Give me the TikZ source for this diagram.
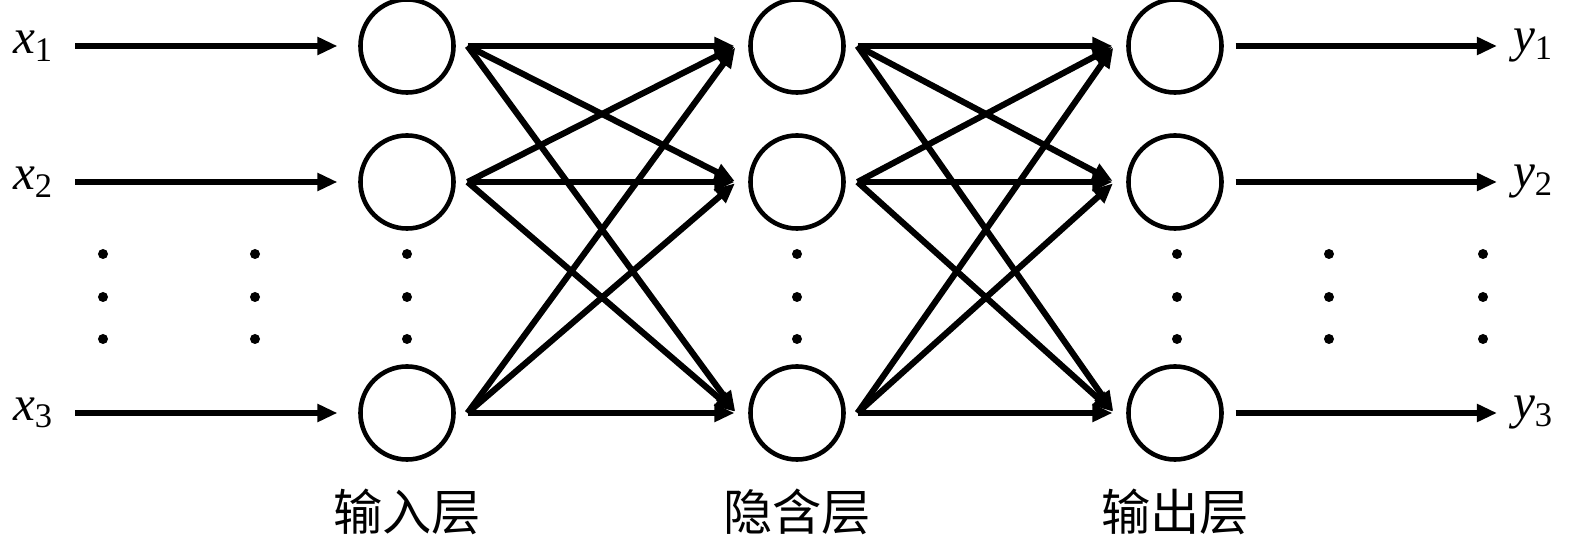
\documentclass[tikz,border=0pt]{standalone}
\usepackage{fontspec}
\setmainfont{Liberation Serif}
\newfontfamily\cjkfont{Noto Sans CJK SC}
\usepackage{tikz}
\usetikzlibrary{arrows.meta}

\begin{document}
\begin{tikzpicture}[x=0.01cm, y=-0.01cm, line width=1.75pt, >={Triangle[length=0.2cm,width=0.17cm]}]
	\tikzstyle{neuron}=[circle,draw=black,line width=1.3pt,minimum size=0.93cm,inner sep=0pt,outer sep=0.14cm]
	\tikzstyle{var}=[inner sep=0pt,font=\fontsize{14}{16}\selectfont]
	\tikzstyle{layer name}=[font=\fontsize{14}{16}\selectfont\cjkfont]
	\tikzstyle{link}=[->, shorten >=0.02cm]

	\useasboundingbox (0,0) rectangle (1575,546);

	% Draw inputs (x)
	\node[var,anchor=east] (x1) at (57,46) {\textit{x}\textsubscript{1}};
	\node[var,anchor=east] (x2) at (57,182) {\textit{x}\textsubscript{2}};
	\node[var,anchor=east] (x3) at (57,413) {\textit{x}\textsubscript{3}};

	% Draw the input layer
	\node[neuron] (in1) at (407,46) {};
	\node[neuron] (in2) at (407,182) {};
	\node[neuron] (in3) at (407,413) {};

	% Draw the hidden layer
	\node[neuron] (hid1) at (797,46) {};
	\node[neuron] (hid2) at (797,182) {};
	\node[neuron] (hid3) at (797,413) {};

	% Draw the output layer
	\node[neuron] (out1) at (1175,46) {};
	\node[neuron] (out2) at (1175,182) {};
	\node[neuron] (out3) at (1175,413) {};

	% Draw outputs (y)
	\node[var,anchor=west] (y1) at (1510,46) {\textit{y}\textsubscript{1}};
	\node[var,anchor=west] (y2) at (1510,182) {\textit{y}\textsubscript{2}};
	\node[var,anchor=west] (y3) at (1510,413) {\textit{y}\textsubscript{3}};

	% Draw arrows
	\path[->, shorten <=0.18cm, shorten >=0.09cm] (x1) edge (in1);
	\path[->, shorten <=0.18cm, shorten >=0.09cm] (x2) edge (in2);
	\path[->, shorten <=0.18cm, shorten >=0.09cm] (x3) edge (in3);

	\path[link] (in1.east) edge (hid1.west);
	\path[link] (in1.east) edge (hid2.west);
	\path[link] (in1.east) edge (hid3.west);
	\path[link] (in2.east) edge (hid1.west);
	\path[link] (in2.east) edge (hid2.west);
	\path[link] (in2.east) edge (hid3.west);
	\path[link] (in3.east) edge (hid1.west);
	\path[link] (in3.east) edge (hid2.west);
	\path[link] (in3.east) edge (hid3.west);

	\path[link] (hid1.east) edge (out1.west);
	\path[link] (hid1.east) edge (out2.west);
	\path[link] (hid1.east) edge (out3.west);
	\path[link] (hid2.east) edge (out1.west);
	\path[link] (hid2.east) edge (out2.west);
	\path[link] (hid2.east) edge (out3.west);
	\path[link] (hid3.east) edge (out1.west);
	\path[link] (hid3.east) edge (out2.west);
	\path[link] (hid3.east) edge (out3.west);

	\path[->, shorten >=0.13cm] (out1) edge (y1);
	\path[->, shorten >=0.13cm] (out2) edge (y2);
	\path[->, shorten >=0.13cm] (out3) edge (y3);

	% Draw the dots
	\foreach \dx in {103,255,407,797,1177,1329,1483}
		\foreach \dy in {254,297,339}
			\fill (\dx,\dy) circle (0.05cm);

	% Annotate the layers
	\node[layer name] (h1) at (407,512) {输入层};
	\node[layer name] (h2) at (797,512) {隐含层};
	\node[layer name] (h3) at (1175,512) {输出层};
\end{tikzpicture}
\end{document}
